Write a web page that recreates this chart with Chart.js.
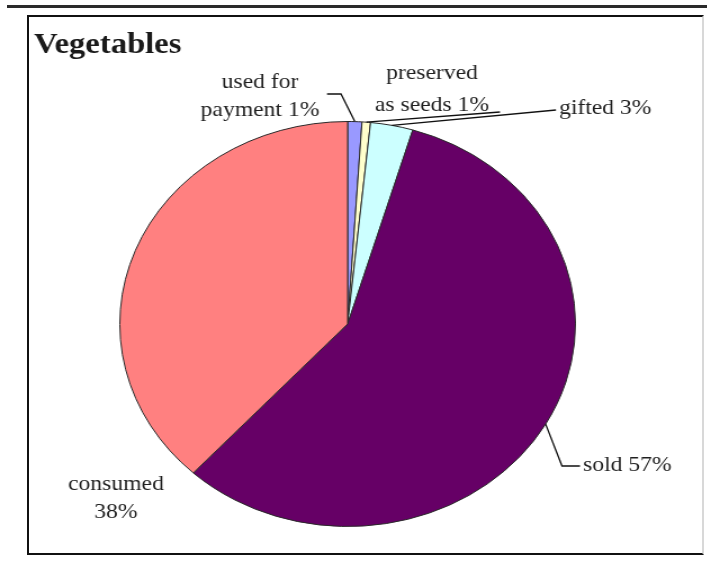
<!DOCTYPE html>
<html>
<head>
<meta charset="utf-8">
<script src="https://cdn.jsdelivr.net/npm/chart.js@4"></script>
<style>
  html, body { margin: 0; padding: 0; background: #fff; overflow: hidden; }
  #topline { position: absolute; left: 7px; top: 5px; width: 700px; height: 3px; background: #2a2a2a; }
  #frame { position: absolute; left: 27px; top: 15px; width: 673px; height: 536px;
           border: 2px solid #111; border-right-color: #d8d8d8; }
  #wrap { position: absolute; left: 0; top: 0; width: 628px; height: 561px;
          transform: scaleX(1.125); transform-origin: 0 0; }
</style>
</head>
<body>
<div id="topline"></div>
<div id="frame"></div>
<div id="wrap"><canvas id="myChart" width="628" height="561"></canvas></div>
<script>
// the source picture is stretched sideways, so the whole canvas is too
const SX = 1.125;

const categories = ['used for payment', 'preserved as seeds', 'gifted', 'sold', 'consumed'];
const shares = [1, 0.6, 3, 57, 38];
const sliceColors = ['#9999FF', '#FFFFCC', '#CCFFFF', '#660066', '#FF8080'];
const labelText = [
  ['used for', 'payment 1%'],
  ['preserved', 'as seeds 1%'],
  ['gifted 3%'],
  ['sold 57%'],
  ['consumed', '38%']
];

// label placement in page pixels: x, first baseline, align, leader path (ends at the slice)
const labelPlace = [
  { x: 260, y: 88, align: 'center', leader: [[327, 94], [341, 94]] },
  { x: 432, y: 79, align: 'center', leader: [[500, 112]] },
  { x: 559, y: 114, align: 'left', leader: [[556, 110]] },
  { x: 583, y: 471, align: 'left', leader: [[580, 466], [562, 466]] },
  { x: 116, y: 490, align: 'center', leader: null }
];

const pieLabels = {
  id: 'pieLabels',
  afterDraw(chart) {
    const ctx = chart.ctx;
    ctx.save();
    ctx.fillStyle = '#1a1a1a';
    ctx.font = 'bold 29px "Liberation Serif"';
    ctx.textAlign = 'left';
    ctx.textBaseline = 'alphabetic';
    ctx.fillText('Vegetables', 34 / SX, 53);

    const arcs = chart.getDatasetMeta(0).data;
    ctx.font = '21px "Liberation Serif"';
    ctx.fillStyle = '#1f1f1f';
    ctx.strokeStyle = '#111';
    ctx.lineWidth = 1.3;
    labelPlace.forEach((p, i) => {
      ctx.textAlign = p.align;
      labelText[i].forEach((line, j) => {
        ctx.fillText(line, p.x / SX, p.y + j * (i === 1 ? 32 : 28));
      });
      if (p.leader) {
        const a = arcs[i];
        const mid = (a.startAngle + a.endAngle) / 2;
        const ax = a.x + Math.cos(mid) * a.outerRadius;
        const ay = a.y + Math.sin(mid) * a.outerRadius;
        ctx.beginPath();
        ctx.moveTo(p.leader[0][0] / SX, p.leader[0][1]);
        for (let k = 1; k < p.leader.length; k++) ctx.lineTo(p.leader[k][0] / SX, p.leader[k][1]);
        ctx.lineTo(ax, ay);
        ctx.stroke();
      }
    });
    ctx.restore();
  }
};

const ctx = document.getElementById('myChart');

const chart = new Chart(ctx, {
  type: 'pie',
  data: {
    labels: categories,
    datasets: [{
      data: shares,
      backgroundColor: sliceColors,
      borderColor: '#2a2a2a',
      borderWidth: 1
    }]
  },
  options: {
    responsive: false,
    animation: false,
    layout: { padding: { left: 106, right: 116, top: 121, bottom: 34 } },
    plugins: {
      legend: { display: false },
      tooltip: { enabled: false },
      title: { display: false }
    }
  },
  plugins: [pieLabels]
});
</script>
</body>
</html>
